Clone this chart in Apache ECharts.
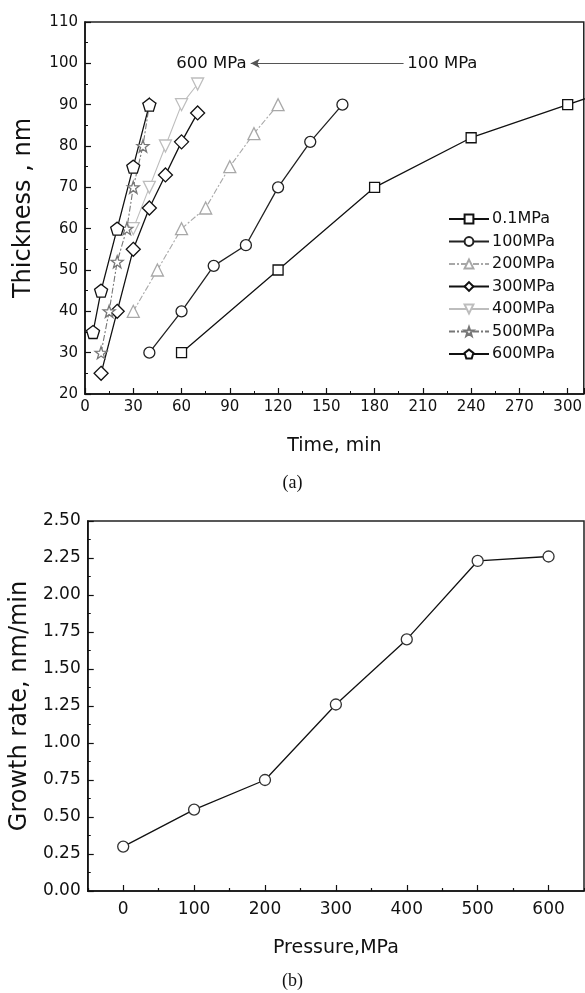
<!DOCTYPE html>
<html>
<head>
<meta charset="utf-8">
<script src="https://cdn.jsdelivr.net/npm/echarts@6/dist/echarts.min.js"></script>
<style>
html,body{margin:0;padding:0;background:#fff;}
#chart{width:585px;height:993px;}
</style>
</head>
<body>
<div id="chart"></div>
<script>
// ---------- Data (a): thickness vs time ----------
const seriesNames = ['0.1MPa', '100MPa', '200MPa', '300MPa', '400MPa', '500MPa', '600MPa'];
const time_01 = [60, 120, 180, 240, 300, 360];
const thick_01 = [30, 50, 70, 82, 90, 98];
const time_100 = [40, 60, 80, 100, 120, 140, 160];
const thick_100 = [30, 40, 51, 56, 70, 81, 90];
const time_200 = [30, 45, 60, 75, 90, 105, 120];
const thick_200 = [40, 50, 60, 65, 75, 83, 90];
const time_300 = [10, 20, 30, 40, 50, 60, 70];
const thick_300 = [25, 40, 55, 65, 73, 81, 88];
const time_400 = [30, 40, 50, 60, 70];
const thick_400 = [60, 70, 80, 90, 95];
const time_500 = [10, 15, 20, 26, 30, 36, 40];
const thick_500 = [30, 40, 52, 60, 70, 80, 90];
const time_600 = [5, 10, 20, 30, 40];
const thick_600 = [35, 45, 60, 75, 90];

// ---------- Data (b): growth rate vs pressure ----------
const pressure = [0, 100, 200, 300, 400, 500, 600];
const growthRate = [0.30, 0.55, 0.75, 1.26, 1.70, 2.23, 2.26];
const pressureTickLabels = [0, 100, 200, 300, 400, 500, 600];

// annotation
const annoLeftText = '600 MPa';
const annoRightText = '100 MPa';

const pair = (xs, ys) => xs.map((x, i) => [x, ys[i]]);

const PENTAGON = 'path://M0,-10 L9.51,-3.09 L5.88,8.09 L-5.88,8.09 L-9.51,-3.09 Z';
const STAR = 'path://M0,-10 L2.35,-3.24 L9.51,-3.09 L3.80,1.24 L5.88,8.09 L0,4 L-5.88,8.09 L-3.80,1.24 L-9.51,-3.09 L-2.35,-3.24 Z';
const INVTRI = 'path://M-10,-8 L10,-8 L0,9 Z';

const FONT = '"DejaVu Sans", "Liberation Sans", Arial, sans-serif';

const styles = [
  {sym: 'rect', size: 10, color: '#111', lw: 1.3, type: 'solid'},
  {sym: 'circle', size: 11, color: '#222', lw: 1.3, type: 'solid'},
  {sym: 'triangle', size: 12, color: '#a8a8a8', lw: 1.1, type: [6, 2, 2, 2]},
  {sym: 'diamond', size: 14, color: '#111', lw: 1.3, type: 'solid'},
  {sym: INVTRI, size: 12, color: '#bdbdbd', lw: 1.1, type: 'solid'},
  {sym: STAR, size: 12, color: '#777', lw: 1.1, type: [6, 2, 2, 2]},
  {sym: PENTAGON, size: 13, color: '#111', lw: 1.3, type: 'solid'}
];
const dataA = [
  pair(time_01, thick_01), pair(time_100, thick_100), pair(time_200, thick_200),
  pair(time_300, thick_300), pair(time_400, thick_400), pair(time_500, thick_500),
  pair(time_600, thick_600)
];

const seriesA = seriesNames.map((n, i) => ({
  name: n,
  type: 'line',
  xAxisIndex: 0, yAxisIndex: 0,
  data: dataA[i],
  symbol: styles[i].sym,
  symbolSize: styles[i].size,
  showAllSymbol: true,
  clip: true,
  z: (i === 4 || i === 2) ? 4 : 10,
  lineStyle: {color: styles[i].color, width: styles[i].lw, type: styles[i].type},
  itemStyle: {color: '#fff', borderColor: styles[i].color, borderWidth: 1.3},
  emphasis: {disabled: true},
  animation: false
}));

// annotation arrow & texts in data space
seriesA.push({
  type: 'line', xAxisIndex: 0, yAxisIndex: 0, data: [], silent: true,
  markLine: {
    silent: true, animation: false,
    symbol: ['none', 'arrow'], symbolSize: [7, 9],
    lineStyle: {color: '#555', width: 1, type: 'solid'},
    label: {show: false},
    data: [[{coord: [198, 100]}, {coord: [103, 100]}]]
  },
  markPoint: {
    silent: true, animation: false,
    symbol: 'rect', symbolSize: 0,
    data: [
      {coord: [101, 100], label: {show: true, formatter: annoLeftText, position: 'left', distance: 1, color: '#111', fontSize: 16.5, fontFamily: FONT}},
      {coord: [199, 100], label: {show: true, formatter: annoRightText, position: 'right', distance: 2, color: '#111', fontSize: 16.5, fontFamily: FONT}}
    ]
  }
});

const seriesB = {
  type: 'line', xAxisIndex: 1, yAxisIndex: 1,
  data: pair(pressure, growthRate),
  symbol: 'circle', symbolSize: 11,
  lineStyle: {color: '#111', width: 1.3},
  itemStyle: {color: '#fff', borderColor: '#333', borderWidth: 1.3},
  animation: false
};

function axisBase(labelSize, nameSize) {
  return {
    axisLine: {show: true, onZero: false, lineStyle: {color: '#111', width: 1.5}},
    axisTick: {show: true, inside: true, length: 6, lineStyle: {color: '#111', width: 1.2}},
    minorTick: {show: true, splitNumber: 2, length: 3, lineStyle: {color: '#111', width: 1}},
    splitLine: {show: false},
    minorSplitLine: {show: false},
    axisLabel: {color: '#111', fontSize: labelSize, fontFamily: FONT, margin: 7},
    nameTextStyle: {color: '#111', fontSize: nameSize, fontFamily: FONT},
    nameLocation: 'middle'
  };
}

const chart = echarts.init(document.getElementById('chart'), null, {renderer: 'canvas'});

const xTop = axisBase(15, 19);
const xBot = axisBase(17, 19);
const yTop = axisBase(15, 24);
const yBot = axisBase(17, 24);

chart.setOption({
  backgroundColor: '#fff',
  animation: false,
  grid: [
    {left: 85, top: 22, width: 499, height: 372, show: true, borderColor: '#222', borderWidth: 1.5, backgroundColor: 'transparent'},
    {left: 86, top: 521, width: 498, height: 370, show: true, borderColor: '#222', borderWidth: 1.5, backgroundColor: 'transparent'}
  ],
  legend: {
    data: seriesNames,
    orient: 'vertical',
    left: 443, top: 206,
    itemWidth: 40, itemHeight: 11, itemGap: 6.5,
    textStyle: {color: '#111', fontSize: 16, fontFamily: FONT, padding: [0, 0, 0, -2]}
  },
  xAxis: [
    Object.assign(xTop, {
      type: 'value', gridIndex: 0, min: 0, max: 310, interval: 30,
      name: 'Time, min', nameGap: 43,
      axisLabel: Object.assign(xTop.axisLabel, {showMaxLabel: false, margin: 6})
    }),
    Object.assign(xBot, {
      type: 'value', gridIndex: 1, min: -50, max: 650, interval: 100,
      name: 'Pressure,MPa', nameGap: 48,
      axisTick: Object.assign(xBot.axisTick, {length: 3}),
      minorTick: Object.assign(xBot.minorTick, {length: 6, lineStyle: {color: '#111', width: 1.2}}),
      axisLabel: Object.assign(xBot.axisLabel, {customValues: pressureTickLabels, margin: 10})
    })
  ],
  yAxis: [
    Object.assign(yTop, {
      type: 'value', gridIndex: 0, min: 20, max: 110, interval: 10,
      name: 'Thickness , nm', nameGap: 49
    }),
    Object.assign(yBot, {
      type: 'value', gridIndex: 1, min: 0, max: 2.5, interval: 0.25,
      name: 'Growth rate, nm/min', nameGap: 51,
      axisLabel: Object.assign(yBot.axisLabel, {formatter: v => v.toFixed(2)})
    })
  ],
  graphic: [
    {type: 'text', left: 'center', top: 474, style: {text: '(a)', font: '18px "Liberation Serif", serif', fill: '#111'}},
    {type: 'text', left: 'center', top: 972, style: {text: '(b)', font: '18px "Liberation Serif", serif', fill: '#111'}}
  ],
  series: seriesA.concat([seriesB])
});
</script>
</body>
</html>
